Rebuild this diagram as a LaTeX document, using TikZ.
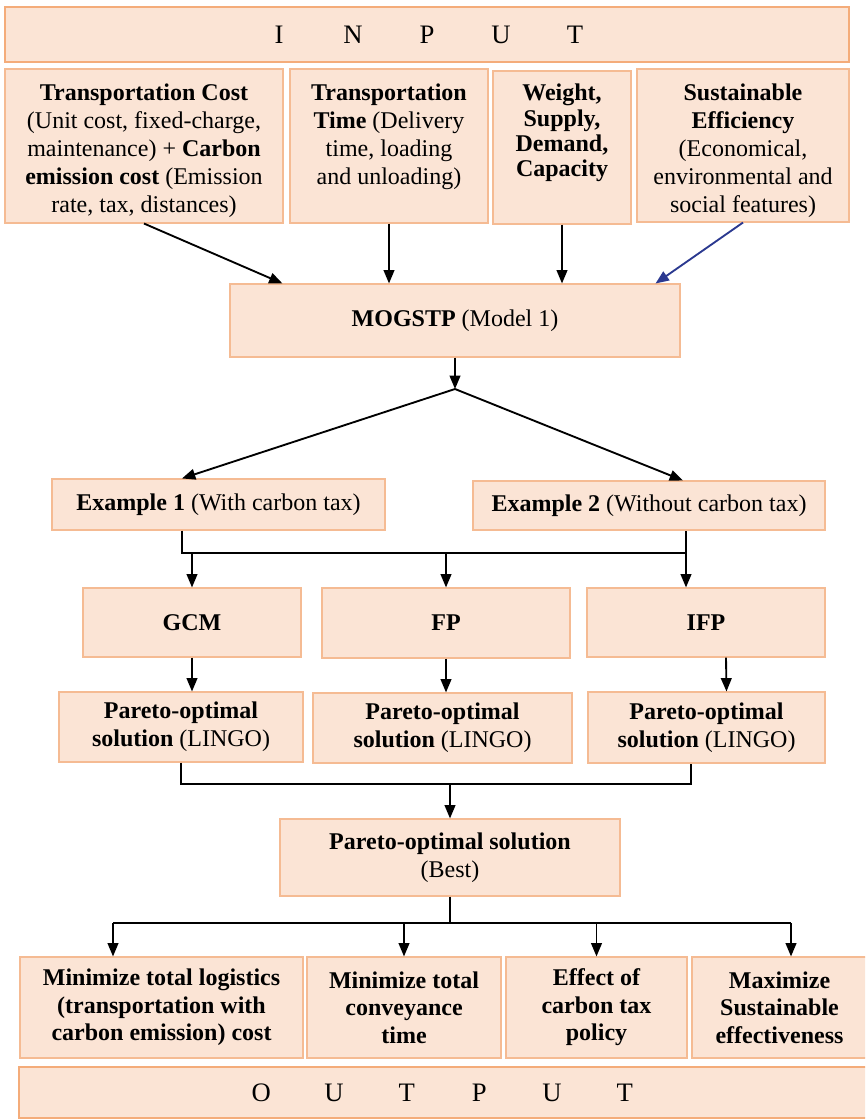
\documentclass[tikz,border=0pt]{standalone}
\usepackage{fontspec}
\setmainfont{Liberation Serif}
\usepackage{xcolor}
\usetikzlibrary{arrows.meta, positioning}

\definecolor{boxfill}{HTML}{FBE4D5}
\definecolor{boxline}{HTML}{F5BB93}
\definecolor{bandline}{HTML}{F4AC7A}
\definecolor{navyarrow}{HTML}{2B3990}

\begin{document}
\begin{tikzpicture}[
    x=0.75pt, y=-0.75pt,
    box/.style={rectangle, draw=boxline, fill=boxfill, line width=0.8pt, inner sep=2pt,
                align=center, font=\fontsize{18}{21}\selectfont},
    bandbox/.style={box, draw=bandline, line width=1.8pt, font=\fontsize{20}{24}\selectfont},
    txt/.style={inner sep=0pt, align=center, font=\fontsize{18}{21}\selectfont},
    wire/.style={draw, line width=1.4pt},
    flow/.style={wire, -{Triangle[length=10pt, width=8pt]}}
]
\useasboundingbox (0,0) rectangle (865,1120);
\clip (0,0) rectangle (865,1120);

% Input row
\node[bandbox, minimum width=633pt, minimum height=41.25pt] (input) at (427,34.5)
    {\foreach \c in {I,N,P,U,T}{\makebox[55.5pt]{\c}}};

\node[box, minimum width=208.5pt, minimum height=115.5pt] (tc) at (144,146) {};
\node[box, minimum width=148.5pt, minimum height=115.5pt] (tt) at (389,146) {};
\node[box, minimum width=103.5pt, minimum height=114.75pt] (wsd) at (562,147.5) {};
\node[box, minimum width=159pt, minimum height=114.75pt] (se) at (743,145.5) {};

\node[txt, below=11.6pt of tc.north] (tctext)
    {\textbf{Transportation Cost}\\ (Unit cost, fixed-charge,\\
     maintenance) + \textbf{Carbon}\\ \textbf{emission cost} (Emission\\ rate, tax, distances)};
\node[txt, below=11.6pt of tt.north] (tttext)
    {\textbf{Transportation}\\ \textbf{Time} (Delivery\\ time, loading\\ and unloading)};
\node[txt, below=10.2pt of wsd.north, font=\fontsize{18}{19}\selectfont] (wsdtext)
    {\textbf{Weight,}\\ \textbf{Supply,}\\ \textbf{Demand,}\\ \textbf{Capacity}};
\node[txt, below=11.6pt of se.north] (setext)
    {\textbf{Sustainable}\\ \textbf{Efficiency}\\ (Economical,\\ environmental and\\ social features)};

% Model and examples
\node[box, minimum width=337.5pt, minimum height=54.75pt] (mogstp) at (455,320.5)
    {\textbf{MOGSTP} (Model 1)};
\coordinate (split) at (455,389);
\node[box, minimum width=249.75pt, minimum height=38.25pt] (ex1) at (218.5,504.5)
    {\textbf{Example 1} (With carbon tax)};
\node[box, minimum width=264pt, minimum height=36.75pt] (ex2) at (649,505.5)
    {\textbf{Example 2} (Without carbon tax)};

% Methods
\node[box, minimum width=163.5pt, minimum height=51.75pt] (gcm) at (192,622.5) {\textbf{GCM}};
\node[box, minimum width=186pt, minimum height=52.5pt] (fp) at (446,623) {\textbf{FP}};
\node[box, minimum width=178.5pt, minimum height=51.75pt] (ifp) at (706,622.5) {\textbf{IFP}};

\node[box, minimum width=183pt, minimum height=52.5pt] (par1) at (181,727)
    {\textbf{Pareto-optimal}\\ \textbf{solution} (LINGO)};
\node[box, minimum width=194.25pt, minimum height=52.5pt] (par2) at (442.5,728)
    {\textbf{Pareto-optimal}\\ \textbf{solution} (LINGO)};
\node[box, minimum width=177.75pt, minimum height=53.25pt] (par3) at (706.5,727.5)
    {\textbf{Pareto-optimal}\\ \textbf{solution} (LINGO)};

\node[box, minimum width=255pt, minimum height=57.75pt] (best) at (450,857.5)
    {\textbf{Pareto-optimal solution}\\ (Best)};

% Output row
\node[box, minimum width=212.25pt, minimum height=75.75pt, font=\bfseries\fontsize{18}{20.6}\selectfont] (o1) at (161.5,1007.5)
    {Minimize total logistics\\ (transportation with\\ carbon emission) cost};
\node[box, minimum width=145.5pt, minimum height=75.75pt, font=\bfseries\fontsize{18}{20.6}\selectfont] (o2) at (404,1007.5)
    {Minimize total\\ conveyance\\ time};
\node[box, minimum width=135.75pt, minimum height=75.75pt, font=\bfseries\fontsize{18}{20.6}\selectfont] (o3) at (596.5,1007.5)
    {Effect of\\ carbon tax\\ policy};
\node[box, minimum width=131.25pt, minimum height=75.75pt, font=\bfseries\fontsize{18}{20.6}\selectfont] (o4) at (779.5,1007.5)
    {Maximize\\ Sustainable\\ effectiveness};

\node[bandbox, minimum width=636pt, minimum height=38.25pt] (output) at (443,1092.5)
    {\foreach \c in {O,U,T,P,U,T}{\makebox[54.5pt]{\c}}};

% Bus points
\coordinate (e1bus) at (182,553);
\coordinate (e2bus) at (686,553);
\coordinate (p3bus) at (691,784);
\coordinate (obusL) at (113,923);
\coordinate (obusR) at (791,923);

% Connectors
\draw[flow] (tc.south) -- ([xshift=39.75pt]mogstp.north west);
\draw[flow] (tt.south) -- (tt.south |- mogstp.north);
\draw[flow] (wsd.south) -- (wsd.south |- mogstp.north);
\draw[flow, draw=navyarrow, fill=navyarrow] (se.south) -- ([xshift=-18.75pt]mogstp.north east);

\draw[flow] (mogstp.south) -- (split);
\draw[flow] (split) -- ([xshift=-27.4pt]ex1.north);
\draw[flow] (split) -- ([xshift=25.5pt]ex2.north);

\draw[wire] (ex1.south -| e1bus) -- (e1bus) -- (e2bus) -- (ex2.south -| e2bus);
\draw[flow] (gcm |- e1bus) -- (gcm.north);
\draw[flow] (fp |- e1bus) -- (fp.north);
\draw[flow] (e2bus) -- (e2bus |- ifp.north);

\draw[flow] (gcm.south) -- (gcm.south |- par1.north);
\draw[flow] (fp.south) -- (fp.south |- par2.north);
\draw[flow] ([xshift=15pt]ifp.south) -- ([xshift=15pt]par3.north);

\draw[wire] (par1.south) |- (p3bus) -- (p3bus |- par3.south);
\draw[flow] (best |- p3bus) -- (best.north);

\draw[wire] (best.south) -- (best.south |- obusL);
\draw[wire] (obusL) -- (obusR);
\draw[flow] (obusL) -- (obusL |- o1.north);
\draw[flow] (o2 |- obusL) -- (o2.north);
\draw[flow] (o3 |- obusL) -- (o3.north);
\draw[flow] (obusR) -- (obusR |- o4.north);
\end{tikzpicture}
\end{document}
